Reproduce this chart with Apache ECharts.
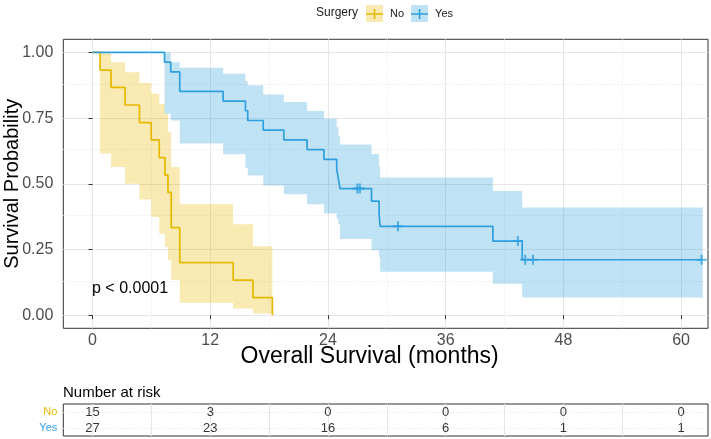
<!DOCTYPE html>
<html>
<head>
<meta charset="utf-8">
<script src="https://cdn.jsdelivr.net/npm/echarts@6/dist/echarts.min.js"></script>
<style>
html,body{margin:0;padding:0;background:#ffffff;}
#c{width:711px;height:439px;}
</style>
</head>
<body>
<div id="c"></div>
<script>
// ---------- tick labels ----------
const timeTicks = [0, 12, 24, 36, 48, 60];
const timeMinor = [6, 18, 30, 42, 54];
const survTicks = [0, 0.25, 0.5, 0.75, 1];
const survMinor = [0.125, 0.375, 0.625, 0.875];

// ---------- group "No" (no surgery) ----------
const noTime = [0, 0.77, 1.89, 3.32, 4.78, 5.98, 6.80, 7.38, 7.69, 8.02, 8.89, 14.33, 16.35, 18.33];
const noSurv = [1, 0.933, 0.867, 0.8, 0.733, 0.667, 0.6, 0.533, 0.467, 0.333, 0.2, 0.133, 0.067, 0];
const noBandTime = [0.77, 1.89, 3.32, 4.78, 5.98, 6.80, 7.38, 7.69, 8.02, 8.89, 14.33, 16.35, 18.33];
const noUpper = [1.0, 0.963, 0.925, 0.884, 0.843, 0.805, 0.767, 0.697, 0.564, 0.422, 0.346, 0.262, 0.262];
const noLower = [0.615, 0.564, 0.50, 0.44, 0.374, 0.31, 0.26, 0.21, 0.135, 0.047, 0.025, 0.006, 0.006];

// ---------- group "Yes" (surgery) ----------
const yesTime = [0, 7.34, 7.97, 8.89, 13.31, 15.59, 15.82, 17.40, 19.50, 21.87, 23.59, 24.89, 25.06, 25.23, 28.44, 29.21, 29.32, 40.81, 43.80, 62.1];
const yesSurv = [1, 0.963, 0.926, 0.852, 0.815, 0.778, 0.741, 0.704, 0.667, 0.630, 0.593, 0.556, 0.519, 0.482, 0.434, 0.386, 0.338, 0.282, 0.211, 0.211];
const yesBandTime = [7.34, 7.97, 8.89, 13.31, 15.59, 15.82, 17.40, 19.50, 21.87, 23.59, 24.89, 25.06, 25.23, 28.44, 29.21, 29.32, 40.81, 43.80, 62.2];
const yesUpper = [1.0, 0.963, 0.942, 0.919, 0.89, 0.875, 0.84, 0.811, 0.777, 0.748, 0.716, 0.684, 0.65, 0.613, 0.564, 0.524, 0.473, 0.41, 0.41];
const yesLower = [0.767, 0.741, 0.653, 0.612, 0.56, 0.532, 0.494, 0.46, 0.422, 0.387, 0.365, 0.345, 0.29, 0.247, 0.22, 0.165, 0.12, 0.067, 0.067];
const yesCensorTime = [27.0, 27.25, 31.13, 43.36, 44.11, 44.89, 62.09];
const yesCensorSurv = [0.482, 0.482, 0.338, 0.282, 0.211, 0.211, 0.211];

// ---------- number at risk ----------
const riskGroups = ['No', 'Yes'];
const riskTimes = [0, 12, 24, 36, 48, 60];
const riskNo = [15, 3, 0, 0, 0, 0];
const riskYes = [27, 23, 16, 6, 1, 1];

// ---------- styling ----------
const FONT = '"Liberation Sans", Arial, Helvetica, sans-serif';
const noColor = '#E7B800', yesColor = '#2E9FDF';
const noFill = 'rgba(231,184,0,0.3)', yesFill = 'rgba(46,159,223,0.3)';
const PLUS = 'path://M0,4 H10 V6 H0 Z M4,0 H6 V10 H4 Z';
const majorGrid = {color: '#e6e6e6', width: 1, type: 'solid'};
const minorGrid = {color: '#e6e3e3', width: 1, type: [1, 2]};

function zip(a, b) { return a.map((v, i) => [v, b[i]]); }

function bandSeries(name, t, lo, up, fill) {
  return {
    type: 'custom', name: name, xAxisIndex: 0, yAxisIndex: 0, z: 2, silent: true,
    data: t.map((v, i) => [v, lo[i], up[i]]),
    encode: {x: 0, y: [1, 2]},
    renderItem: function (params, api) {
      if (params.dataIndex !== 0) return null;
      const n = t.length, pts = [];
      for (let i = 0; i < n; i++) {
        pts.push(api.coord([t[i], up[i]]));
        if (i < n - 1) pts.push(api.coord([t[i + 1], up[i]]));
      }
      for (let i = n - 1; i >= 0; i--) {
        if (i < n - 1) pts.push(api.coord([t[i + 1], lo[i]]));
        pts.push(api.coord([t[i], lo[i]]));
      }
      return {type: 'polygon', shape: {points: pts}, style: {fill: fill}};
    }
  };
}

const chart = echarts.init(document.getElementById('c'), null, {renderer: 'canvas'});

const option = {
  animation: false,
  textStyle: {fontFamily: FONT},
  title: [
    {text: 'Surgery', left: 316, top: 7, padding: 0,
     textStyle: {fontSize: 12, fontWeight: 'normal', color: '#1a1a1a', fontFamily: FONT}},
    {text: 'p < 0.0001', left: 92, top: 281, padding: 0,
     textStyle: {fontSize: 16, fontWeight: 'normal', color: '#000', fontFamily: FONT}},
    {text: 'Number at risk', left: 63, top: 385, padding: 0,
     textStyle: {fontSize: 15, fontWeight: 'normal', color: '#000', fontFamily: FONT}}
  ],
  legend: [
    {left: 366, top: 5, padding: 0, itemWidth: 17, itemHeight: 17, itemGap: 7, icon: 'rect',
     selectedMode: false,
     textStyle: {fontSize: 11, color: '#1a1a1a', fontFamily: FONT, padding: [0, 0, 0, 2]},
     data: [{name: 'No', itemStyle: {color: noFill}}, {name: 'Yes', itemStyle: {color: yesFill}}]},
    {left: 366, top: 8.5, padding: 0, itemWidth: 17, itemHeight: 10, itemGap: 7, icon: 'path://M0,4.2 H17 V5.8 H0 Z M7.7,0 H9.3 V10 H7.7 Z',
     selectedMode: false,
     textStyle: {fontSize: 11, color: 'rgba(0,0,0,0)', fontFamily: FONT, padding: [0, 0, 0, 2]},
     data: [{name: 'No', itemStyle: {color: noColor}}, {name: 'Yes', itemStyle: {color: yesColor}}]}
  ],
  grid: [
    {left: 63.3, right: 3, top: 39.3, height: 289, show: true, borderColor: '#333333', borderWidth: 1,
     backgroundColor: '#ffffff', containLabel: false, outerBoundsMode: 'none'},
    {left: 63.3, right: 3, top: 404, height: 32, show: true, borderColor: '#333333', borderWidth: 1,
     backgroundColor: '#ffffff', containLabel: false, outerBoundsMode: 'none'}
  ],
  xAxis: [
    {type: 'value', gridIndex: 0, min: -2.98, max: 62.74,
     axisLine: {show: false}, splitLine: {show: false},
     axisTick: {show: true, length: 4, customValues: timeTicks, lineStyle: {color: '#333333'}},
     axisLabel: {customValues: timeTicks, fontSize: 16, color: '#4d4d4d', margin: 4, fontFamily: FONT},
     name: 'Overall Survival (months)', nameLocation: 'middle', nameGap: 17, nameMoveOverlap: false,
     nameTextStyle: {fontSize: 23, color: '#000', fontFamily: FONT, padding: [0, 32, 0, 0]}},
    {type: 'value', gridIndex: 1, min: -2.98, max: 62.74,
     axisLine: {show: false}, splitLine: {show: false}, axisTick: {show: false}, axisLabel: {show: false}}
  ],
  yAxis: [
    {type: 'value', gridIndex: 0, min: -0.05, max: 1.05,
     axisLine: {show: false}, splitLine: {show: false},
     axisTick: {show: true, length: 4, customValues: survTicks, lineStyle: {color: '#333333'}},
     axisLabel: {customValues: survTicks, formatter: v => v.toFixed(2), fontSize: 16, color: '#4d4d4d', margin: 10, fontFamily: FONT},
     name: 'Survival Probability', nameLocation: 'middle', nameGap: 41, nameRotate: 90, nameMoveOverlap: false,
     nameTextStyle: {fontSize: 20, color: '#000', fontFamily: FONT}},
    {type: 'category', gridIndex: 1, data: riskGroups, inverse: true,
     axisLine: {show: false}, axisTick: {show: false}, splitLine: {show: false},
     axisLabel: {fontSize: 11, margin: 6, fontFamily: FONT,
       color: v => (v === 'No' ? noColor : yesColor)}}
  ],
  series: [
    // grid lines of main panel
    {type: 'line', xAxisIndex: 0, yAxisIndex: 0, data: [], silent: true,
     markLine: {silent: true, z: 0, symbol: ['none', 'none'], label: {show: false}, emphasis: {disabled: true},
       data: [].concat(
         timeMinor.map(v => ({xAxis: v, lineStyle: minorGrid})),
         survMinor.map(v => ({yAxis: v, lineStyle: minorGrid})),
         timeTicks.map(v => ({xAxis: v, lineStyle: majorGrid})),
         survTicks.map(v => ({yAxis: v, lineStyle: majorGrid}))
       )}},
    // grid lines of the risk table
    {type: 'line', xAxisIndex: 1, yAxisIndex: 1, data: [], silent: true,
     markLine: {silent: true, z: 0, symbol: ['none', 'none'], label: {show: false}, emphasis: {disabled: true},
       data: [].concat(
         timeMinor.map(v => ({xAxis: v, lineStyle: majorGrid})),
         timeTicks.map(v => ({xAxis: v, lineStyle: majorGrid})),
         riskGroups.map(v => ({yAxis: v, lineStyle: minorGrid}))
       )}},
    bandSeries('No band', noBandTime, noLower, noUpper, noFill),
    bandSeries('Yes band', yesBandTime, yesLower, yesUpper, yesFill),
    {type: 'line', name: 'No', xAxisIndex: 0, yAxisIndex: 0, step: 'end', z: 4, silent: true,
     data: zip(noTime, noSurv), symbol: 'none', showSymbol: false,
     lineStyle: {color: noColor, width: 1.7}, itemStyle: {color: noColor}},
    {type: 'line', name: 'Yes', xAxisIndex: 0, yAxisIndex: 0, step: 'end', z: 4, silent: true,
     data: zip(yesTime, yesSurv), symbol: 'none', showSymbol: false,
     lineStyle: {color: yesColor, width: 1.7}, itemStyle: {color: yesColor}},
    {type: 'scatter', name: 'Yes censor', xAxisIndex: 0, yAxisIndex: 0, z: 5, silent: true,
     data: zip(yesCensorTime, yesCensorSurv), symbol: PLUS, symbolSize: 10,
     itemStyle: {color: yesColor}},
    // risk table numbers
    {type: 'scatter', name: 'risk', xAxisIndex: 1, yAxisIndex: 1, z: 5, silent: true,
     symbolSize: 1, itemStyle: {color: 'rgba(0,0,0,0)'},
     data: riskTimes.map((t, i) => [t, 0, riskNo[i]]).concat(riskTimes.map((t, i) => [t, 1, riskYes[i]])),
     encode: {x: 0, y: 1},
     label: {show: true, position: 'inside', formatter: p => String(p.data[2]), fontSize: 13, color: '#000', fontFamily: FONT}}
  ]
};
chart.setOption(option);
</script>
</body>
</html>
